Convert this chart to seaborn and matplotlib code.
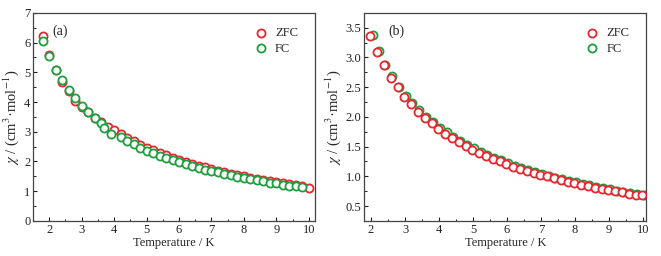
import pandas as pd
import matplotlib.pyplot as plt
import matplotlib.ticker as mticker
import seaborn as sns

# Panel (a)
t_zfc_a = [1.8, 2.0, 2.2, 2.4, 2.6, 2.8, 3.0, 3.2, 3.4, 3.6, 3.8, 4.0, 4.2, 4.4, 4.6, 4.8,
           5.0, 5.2, 5.4, 5.6, 5.8, 6.0, 6.2, 6.4, 6.6, 6.8, 7.0, 7.2, 7.4, 7.6, 7.8, 8.0,
           8.2, 8.4, 8.6, 8.8, 9.0, 9.2, 9.4, 9.6, 9.8, 10.0]
chi_zfc_a = [6.22, 5.60, 5.07, 4.66, 4.36, 4.04, 3.83, 3.65, 3.47, 3.32, 3.17, 3.05, 2.92, 2.80,
             2.68, 2.57, 2.47, 2.38, 2.29, 2.21, 2.13, 2.06, 1.99, 1.92, 1.86, 1.80, 1.74, 1.69,
             1.64, 1.59, 1.55, 1.50, 1.46, 1.42, 1.38, 1.34, 1.30, 1.27, 1.23, 1.20, 1.16, 1.11]
t_fc_a = [1.8, 2.0, 2.2, 2.4, 2.6, 2.8, 3.0, 3.2, 3.4, 3.6, 3.7, 3.9, 4.2, 4.4, 4.6, 4.8,
          5.0, 5.2, 5.4, 5.6, 5.8, 6.0, 6.2, 6.4, 6.6, 6.8, 7.0, 7.2, 7.4, 7.6, 7.8, 8.0,
          8.2, 8.4, 8.6, 8.8, 9.0, 9.2, 9.4, 9.6, 9.8]
chi_fc_a = [6.04, 5.55, 5.09, 4.75, 4.42, 4.14, 3.88, 3.67, 3.47, 3.28, 3.12, 2.93, 2.81, 2.70,
            2.58, 2.47, 2.37, 2.29, 2.20, 2.12, 2.05, 1.98, 1.91, 1.85, 1.79, 1.73, 1.68, 1.63,
            1.58, 1.54, 1.49, 1.45, 1.41, 1.37, 1.33, 1.29, 1.26, 1.22, 1.19, 1.16, 1.13]

# Panel (b)
t_zfc_b = [1.98, 2.18, 2.38, 2.58, 2.78, 2.98, 3.18, 3.38, 3.58, 3.78, 3.98, 4.18, 4.38, 4.58,
           4.78, 4.98, 5.18, 5.38, 5.58, 5.78, 5.98, 6.18, 6.38, 6.58, 6.78, 6.98, 7.18, 7.38,
           7.58, 7.78, 7.98, 8.18, 8.38, 8.58, 8.78, 8.98, 9.18, 9.38, 9.58, 9.78, 9.96]
chi_zfc_b = [3.37, 3.10, 2.87, 2.66, 2.50, 2.34, 2.21, 2.09, 1.99, 1.89, 1.80, 1.72, 1.64, 1.57,
             1.51, 1.45, 1.40, 1.35, 1.30, 1.25, 1.21, 1.16, 1.12, 1.09, 1.06, 1.03, 1.00, 0.97,
             0.94, 0.91, 0.88, 0.86, 0.83, 0.81, 0.79, 0.77, 0.75, 0.73, 0.71, 0.69, 0.68]
t_fc_b = [2.05, 2.23, 2.42, 2.62, 2.82, 3.02, 3.22, 3.42, 3.62, 3.82, 4.02, 4.22, 4.42, 4.62,
          4.82, 5.02, 5.22, 5.42, 5.62, 5.82, 6.02, 6.22, 6.42, 6.62, 6.82, 7.02, 7.22, 7.42,
          7.62, 7.82, 8.02, 8.22, 8.42, 8.62, 8.82, 9.02, 9.22, 9.42, 9.62, 9.82, 10.04]
chi_fc_b = [3.38, 3.11, 2.88, 2.69, 2.51, 2.36, 2.23, 2.11, 2.00, 1.91, 1.82, 1.74, 1.66, 1.59,
            1.53, 1.47, 1.41, 1.36, 1.31, 1.27, 1.22, 1.18, 1.14, 1.10, 1.07, 1.04, 1.01, 0.98,
            0.95, 0.92, 0.90, 0.87, 0.85, 0.82, 0.80, 0.78, 0.76, 0.74, 0.72, 0.70, 0.68]

red = "#e8262e"
green = "#1e9e3e"

sns.set_theme(style="ticks")
plt.rcParams["font.family"] = ["Liberation Serif", "DejaVu Serif"]
plt.rcParams["mathtext.fontset"] = "stix"
plt.rcParams["font.size"] = 9
plt.rcParams["axes.edgecolor"] = "#444444"
plt.rcParams["axes.linewidth"] = 0.9

fig = plt.figure(figsize=(6.61, 2.56), dpi=100)
ax_a = fig.add_axes([0.050, 0.137, 0.427, 0.8125])
ax_b = fig.add_axes([0.551, 0.137, 0.427, 0.8125])

ms = 34
lw = 1.3


def draw(ax, t1, c1, t2, c2, order):
    df1 = pd.DataFrame({"T": t1, "chi": c1})
    df2 = pd.DataFrame({"T": t2, "chi": c2})
    series = {"ZFC": (df1, red), "FC": (df2, green)}
    for name in order:
        d, col = series[name]
        sns.scatterplot(data=d, x="T", y="chi", ax=ax, marker="o", s=ms,
                        facecolor="white", edgecolor=col, linewidth=lw, label=name,
                        zorder=3 if name == order[-1] else 2)
    h, l = ax.get_legend_handles_labels()
    hm = dict(zip(l, h))
    ax.legend([hm["ZFC"], hm["FC"]], ["ZFC", "FC"], loc="upper right", frameon=False,
              fontsize=9, handletextpad=0.1, borderaxespad=0.3, labelspacing=0.3,
              bbox_to_anchor=(0.97, 0.975))
    ax.set_xlabel("Temperature / K", fontsize=9, labelpad=1)
    ax.set_ylabel(r"$\chi$ / (cm$^{3}$·mol$^{-1}$)", fontsize=10.5, labelpad=2)
    ax.tick_params(which="both", direction="in", colors="#222222", labelsize=9,
                   top=False, right=False)
    ax.tick_params(which="major", length=3, width=0.8, pad=2)
    ax.tick_params(which="minor", length=1.8, width=0.7)
    for sp in ax.spines.values():
        sp.set_visible(True)
        sp.set_color("#444444")
    ax.xaxis.set_major_locator(mticker.MultipleLocator(1))
    ax.xaxis.set_minor_locator(mticker.MultipleLocator(0.5))


draw(ax_a, t_zfc_a, chi_zfc_a, t_fc_a, chi_fc_a, ["ZFC", "FC"])
ax_a.set_xlim(1.5, 10.2)
ax_a.set_ylim(0, 7)
ax_a.yaxis.set_major_locator(mticker.MultipleLocator(1))
ax_a.yaxis.set_minor_locator(mticker.MultipleLocator(0.5))
ax_a.text(0.07, 0.895, "(a)", transform=ax_a.transAxes, fontsize=10)

draw(ax_b, t_zfc_b, chi_zfc_b, t_fc_b, chi_fc_b, ["FC", "ZFC"])
ax_b.set_xlim(1.8, 10.1)
ax_b.set_ylim(0.25, 3.75)
ax_b.yaxis.set_major_locator(mticker.MultipleLocator(0.5))
ax_b.yaxis.set_minor_locator(mticker.MultipleLocator(0.25))
ax_b.yaxis.set_major_formatter(mticker.FormatStrFormatter("%.1f"))
ax_b.text(0.085, 0.895, "(b)", transform=ax_b.transAxes, fontsize=10)

fig.savefig("out.png", dpi=100)
plt.close(fig)
